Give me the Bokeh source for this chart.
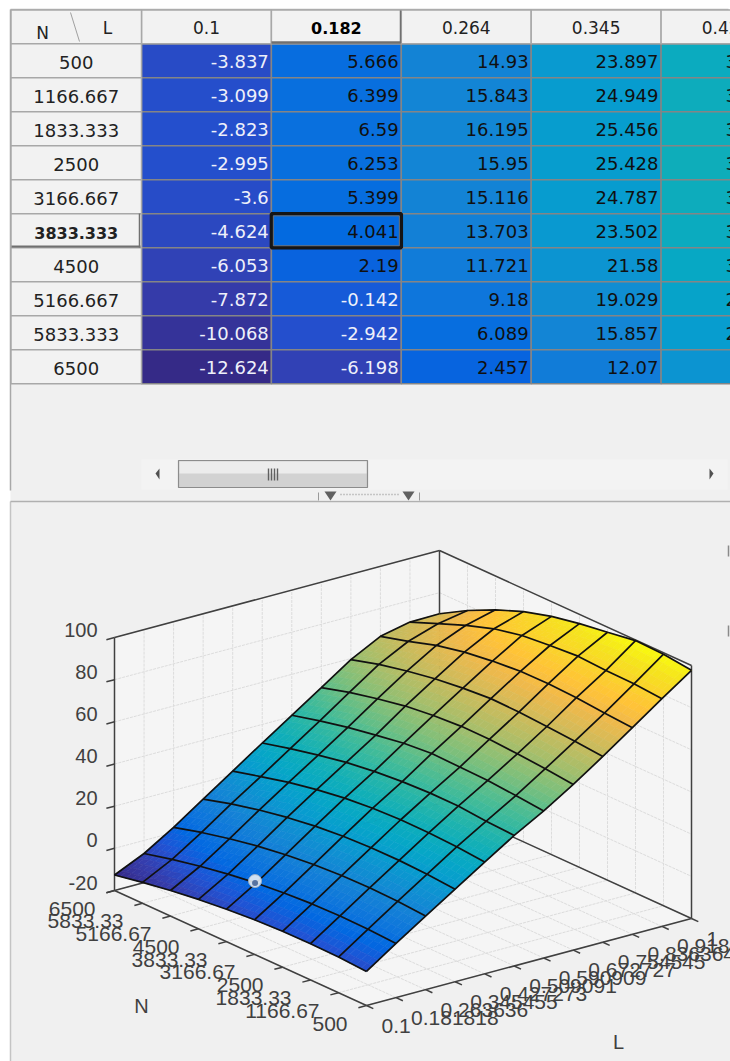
from bokeh.plotting import figure
from bokeh.models import Range1d, ColumnDataSource
from bokeh.core.properties import value
from bokeh.embed import file_html
from bokeh.resources import INLINE

# ---- data ----
N_VALUES = [500, 1166.667, 1833.333, 2500, 3166.667, 3833.333, 4500, 5166.667, 5833.333, 6500]
L_VALUES = [0.1, 0.181818, 0.263636, 0.345455, 0.427273, 0.509091, 0.590909, 0.672727, 0.754545, 0.836364, 0.918182, 1]
N_ROW_LABELS = ["500", "1166.667", "1833.333", "2500", "3166.667", "3833.333", "4500", "5166.667", "5833.333", "6500"]
L_COL_LABELS = ["0.1", "0.182", "0.264", "0.345", "0.427"]
N_TICK_LABELS = ["500", "1166.67", "1833.33", "2500", "3166.67", "3833.33", "4500", "5166.67", "5833.33", "6500"]
L_TICK_LABELS = ["0.1", "0.181818", "0.263636", "0.345455", "0.427273", "0.509091", "0.590909",
                 "0.672727", "0.754545", "0.836364", "0.918182", "1"]
Z_TICKS = [-20, 0, 20, 40, 60, 80, 100]

Z = [
    [-3.837, 5.666, 14.93, 23.897, 33.021, 41.9, 49.8, 58.6, 68.1, 78.0, 88.0, 97.7],
    [-3.099, 6.399, 15.843, 24.949, 34.214, 42.6, 51.0, 60.0, 69.3, 78.9, 89.0, 99.3],
    [-2.823, 6.59, 16.195, 25.456, 34.806, 43.7, 52.1, 61.0, 70.2, 80.1, 89.3, 99.7],
    [-2.995, 6.253, 15.95, 25.428, 34.913, 43.8, 52.4, 61.8, 71.0, 80.7, 90.0, 97.6],
    [-3.6, 5.399, 15.116, 24.787, 34.318, 43.2, 52.8, 61.9, 71.3, 80.5, 89.0, 95.6],
    [-4.624, 4.041, 13.703, 23.502, 33.042, 42.0, 51.6, 61.0, 70.2, 79.3, 87.7, 93.0],
    [-6.053, 2.19, 11.721, 21.58, 31.027, 40.2, 49.4, 59.4, 68.6, 77.5, 84.8, 89.2],
    [-7.872, -0.142, 9.18, 19.029, 28.412, 37.6, 47.0, 56.8, 66.2, 74.6, 80.4, 84.0],
    [-10.068, -2.942, 6.089, 15.857, 25.103, 34.6, 44.0, 53.8, 63.3, 70.5, 75.1, 77.6],
    [-12.624, -6.198, 2.457, 12.07, 21.63, 31.2, 40.6, 50.0, 59.5, 66.8, 69.8, 70.0],
]
SELECTED_ROW, SELECTED_COL = 5, 1

# ---- palette ----
PARULA = [(53, 42, 135), (53, 61, 173), (32, 83, 212), (2, 104, 225), (13, 117, 220), (20, 129, 214),
          (16, 142, 210), (7, 156, 207), (6, 167, 198), (15, 174, 185), (37, 181, 169), (66, 187, 152),
          (101, 190, 134), (135, 191, 119), (165, 190, 107), (192, 188, 96), (217, 186, 86),
          (241, 185, 74), (255, 195, 55), (250, 211, 42), (245, 228, 29), (249, 251, 14)]
ZMIN, ZMAX = -12.624, 99.7


def color(z):
    t = max(0.0, min(1.0, (z - ZMIN) / (ZMAX - ZMIN))) * (len(PARULA) - 1)
    i = min(int(t), len(PARULA) - 2)
    f = t - i
    c = [round(PARULA[i][k] + (PARULA[i + 1][k] - PARULA[i][k]) * f) for k in range(3)]
    return "#%02x%02x%02x" % tuple(c)


# ---- page ----
FONT = value("DejaVu Sans")
ARIAL = value("Liberation Sans")
p = figure(width=730, height=1061, x_range=Range1d(0, 730), y_range=Range1d(1061, 0),
           toolbar_location=None, output_backend="svg", min_border=0)
p.axis.visible = False
p.grid.visible = False
p.outline_line_color = None
p.background_fill_color = "white"
p.border_fill_color = "white"

# table scale: column index / row index -> page
COLW, ROWH, X0, Y0 = 129.9, 34.0, 141.0, 43.3
p.extra_x_ranges["tx"] = Range1d((0 - X0) / COLW, (730 - X0) / COLW)
p.extra_y_ranges["ty"] = Range1d((1061 - Y0) / ROWH, (0 - Y0) / ROWH)
T = dict(x_range_name="tx", y_range_name="ty")


def block(x0, x1, y0, y1, fill, line=None, lw=1):
    p.quad(left=x0, right=x1, top=y0, bottom=y1, fill_color=fill,
           line_color=line, line_width=lw)


def seg(x0, y0, x1, y1, col, lw=1, dash="solid"):
    p.line([x0, x1], [y0, y1], line_color=col, line_width=lw, line_dash=dash)


BG = "#f0f0f0"
block(10, 730, 9, 1061, BG)
seg(10, 9, 10, 490, "#a8a8a8", 1.5)
seg(10, 501, 10, 1061, "#c4c4c4", 1.5)
seg(10, 9, 728, 9, "#b8b8b8", 1.5)
seg(728, 545, 728, 556, "#8a8a8a", 1.5)
seg(728, 625, 728, 636, "#8a8a8a", 1.5)

# table cells
n_cols = len(L_COL_LABELS)
cx, cy, cf, ct, ctc = [], [], [], [], []
for r in range(len(N_VALUES)):
    for c in range(n_cols):
        v = Z[r][c]
        cx.append(c + 0.5)
        cy.append(r + 0.5)
        cf.append(color(v))
        ct.append(f"{v:.3f}".rstrip("0").rstrip("."))
        ctc.append("#eef0fa" if v < 0 else "#101010")
p.rect(x="x", y="y", width=1, height=1, fill_color="f", line_color="#858585", line_width=1.5,
       source=ColumnDataSource(dict(x=cx, y=cy, f=cf)), **T)
vis = [k for k in range(len(ct)) if not (cx[k] > 4 and len(ct[k]) < 6)]
p.text(x=[cx[k] + 0.5 - 0.02 for k in vis], y=[cy[k] + 0.03 for k in vis], text=[ct[k] for k in vis],
       text_color=[ctc[k] for k in vis], text_font=FONT,
       text_font_size="18px", text_align="right", text_baseline="middle", **T)

# headers
HDR_TOP = (9.5 - Y0) / ROWH
p.quad(left=list(range(n_cols)), right=[i + 1 for i in range(n_cols)], top=[HDR_TOP] * n_cols,
       bottom=[0] * n_cols, fill_color="#f2f2f2", line_color="#a8a8a8", line_width=1.5, **T)
RH_L, RH_R = (10.5 - X0) / COLW, 0
p.quad(left=[RH_L] * 11, right=[RH_R] * 11, top=[HDR_TOP] + list(range(10)),
       bottom=list(range(11)), fill_color="#f2f2f2", line_color="#a8a8a8", line_width=1.5, **T)
p.text(x=[i + 0.5 for i in range(n_cols)], y=[HDR_TOP / 2 + 0.03] * n_cols, text=L_COL_LABELS,
       text_color=["#222222", "black", "#222222", "#222222", "#222222"],
       text_font=FONT, text_font_size=["17px", "16px", "17px", "17px", "17px"], text_align="center",
       text_baseline="middle",
       text_font_style=["normal", "bold", "normal", "normal", "normal"], **T)
p.text(x=[RH_L / 2] * 10, y=[r + 0.55 for r in range(10)], text=N_ROW_LABELS, text_color="#222222",
       text_font=FONT, text_font_size=["16px" if r == SELECTED_ROW else "18px" for r in range(10)],
       text_align="center", text_baseline="middle",
       text_font_style=["bold" if r == SELECTED_ROW else "normal" for r in range(10)], **T)
p.text(x=[42, 107], y=[32, 27], text=["N", "L"], text_color="#222222", text_font=FONT,
       text_font_size="17px", text_align="center", text_baseline="middle")
seg(70, 12, 79, 41, "#a0a0a0", 1)

# selection
p.rect(x=[SELECTED_COL + 0.5], y=[SELECTED_ROW + 0.5], width=1, height=1, fill_alpha=0,
       line_color="#151515", line_width=3.5, **T)
p.rect(x=[SELECTED_COL + 0.5], y=[SELECTED_ROW + 0.5], width=0.97, height=0.88, fill_alpha=0,
       line_color="#707070", line_width=1, **T)
seg(271, 42, 400, 42, "#707070", 2.5)
seg(400, 10, 400, 43, "#707070", 1.5)
seg(139, 213, 139, 247, "#707070", 1.5)
seg(11, 246, 140, 246, "#707070", 2)

# scrollbar
block(141, 727, 459, 489, "#f3f3f3")
block(178, 367, 460, 487, "#d2d2d2", "#8c8c8c", 1.2)
block(179, 366, 461, 473, "#ececec")
for gx in (268, 271, 274, 277):
    seg(gx, 468, gx, 480, "#606060", 1.4)
p.patch([159, 155, 159], [468, 473, 479], fill_color="#505050", line_color=None)
p.patch([709, 713, 709], [468, 473, 479], fill_color="#505050", line_color=None)

# splitter
seg(10, 501, 730, 501, "#b0b0b0", 1.5)
block(318, 419, 491, 500, "#f0f0f0")
seg(318, 492, 318, 500, "#9a9a9a", 1)
seg(419, 492, 419, 500, "#9a9a9a", 1)
p.patch([324, 336, 330], [491, 491, 500], fill_color="#606060", line_color=None)
p.patch([402, 414, 408], [491, 491, 500], fill_color="#606060", line_color=None)
seg(340, 494, 398, 494, "#9a9a9a", 1.5, "1 2")

# ---- 3-D scene ----
LEFT = (114.0, 890.0)    # N=6500, L=0.1, z=-20
FRONT = (366.0, 1005.0)  # N=500,  L=0.1, z=-20
RIGHT = (691.0, 918.0)   # N=500,  L=1,   z=-20
PX_PER_Z = 253.0 / 120.0
LMIN, LMAX, NMIN, NMAX = L_VALUES[0], L_VALUES[-1], N_VALUES[0], N_VALUES[-1]


def project(n, l, z):
    a = (l - LMIN) / (LMAX - LMIN)
    b = (n - NMIN) / (NMAX - NMIN)
    x = FRONT[0] + a * (RIGHT[0] - FRONT[0]) + b * (LEFT[0] - FRONT[0])
    y = FRONT[1] + a * (RIGHT[1] - FRONT[1]) + b * (LEFT[1] - FRONT[1])
    return x, y - (z + 20) * PX_PER_Z


# panes
PANE = "#f5f5f5"
GRID = "#dcdcdc"
walls = [[(NMAX, LMIN, -20), (NMIN, LMIN, -20), (NMIN, LMAX, -20), (NMAX, LMAX, -20)],
         [(NMAX, LMIN, -20), (NMAX, LMAX, -20), (NMAX, LMAX, 100), (NMAX, LMIN, 100)],
         [(NMAX, LMAX, -20), (NMIN, LMAX, -20), (NMIN, LMAX, 100), (NMAX, LMAX, 100)]]
for w in walls:
    pts = [project(*q) for q in w]
    p.patch([q[0] for q in pts], [q[1] for q in pts], fill_color=PANE, line_color=None)


def line3(a, b, col, lw=1, dash="solid"):
    x0, y0 = project(*a)
    x1, y1 = project(*b)
    seg(x0, y0, x1, y1, col, lw, dash)


GD = "3 1"
for n in N_VALUES:
    line3((n, LMIN, -20), (n, LMAX, -20), GRID, 1, GD)
    line3((n, LMAX, -20), (n, LMAX, 100), GRID, 1, GD)
for l in L_VALUES:
    line3((NMIN, l, -20), (NMAX, l, -20), GRID, 1, GD)
    line3((NMAX, l, -20), (NMAX, l, 100), GRID, 1, GD)
for z in Z_TICKS:
    line3((NMAX, LMIN, z), (NMAX, LMAX, z), GRID, 1, GD)
    line3((NMAX, LMAX, z), (NMIN, LMAX, z), GRID, 1, GD)

# box lines
AX = "#404040"
for a, b in [((NMAX, LMIN, -20), (NMAX, LMIN, 100)), ((NMAX, LMIN, 100), (NMAX, LMAX, 100)),
             ((NMAX, LMAX, -20), (NMAX, LMAX, 100)), ((NMAX, LMAX, 100), (NMIN, LMAX, 100)),
             ((NMIN, LMAX, -20), (NMIN, LMAX, 100)), ((NMAX, LMIN, -20), (NMIN, LMIN, -20)),
             ((NMIN, LMIN, -20), (NMIN, LMAX, -20)), ((NMAX, LMIN, -20), (NMAX, LMAX, -20)),
             ((NMAX, LMAX, -20), (NMIN, LMAX, -20))]:
    line3(a, b, AX, 1.5)

# ticks
TICK = AX
LSPAN = (LMAX - LMIN) * 0.025
NSPAN = (NMAX - NMIN) * 0.027
for z in Z_TICKS:
    line3((NMAX, LMIN, z), (NMAX, LMIN - LSPAN, z), TICK, 1.5)
for n in N_VALUES:
    line3((n, LMIN, -20), (n, LMIN - LSPAN, -20), TICK, 1.5)
for l in L_VALUES:
    line3((NMIN, l, -20), (NMIN - NSPAN, l, -20), TICK, 1.5)

# tick labels
LBL = "#404040"
zp = [project(NMAX, LMIN, z) for z in Z_TICKS]
p.text(x=[q[0] - 17 for q in zp], y=[q[1] - 8 for q in zp], text=[str(z) for z in Z_TICKS],
       text_color=LBL, text_font=ARIAL, text_font_size="20px", text_align="right",
       text_baseline="middle")
np_ = [project(n, LMIN, -20) for n in N_VALUES]
p.text(x=[q[0] - 19 for q in np_], y=[q[1] + 18 for q in np_], text=N_TICK_LABELS,
       text_color=LBL, text_font=ARIAL, text_font_size="21px", text_align="right",
       text_baseline="middle")
lp = [project(NMIN, l, -20) for l in L_VALUES]
p.text(x=[q[0] + 15 for q in lp], y=[q[1] + 20 for q in lp], text=L_TICK_LABELS,
       text_color=LBL, text_font=ARIAL, text_font_size="21px", text_align="left",
       text_baseline="middle")
p.text(x=[141, 618], y=[1005, 1041], text=["N", "L"], text_color=LBL, text_font=ARIAL,
       text_font_size="20px", text_align="center", text_baseline="middle")

# surface, back to front, each facet shaded from its corner values
SUB = 5
xs, ys, fills = [], [], []
for r in range(len(N_VALUES) - 2, -1, -1):
    for c in range(len(L_VALUES) - 2, -1, -1):
        n0, n1 = N_VALUES[r], N_VALUES[r + 1]
        l0, l1 = L_VALUES[c], L_VALUES[c + 1]
        z00, z01, z10, z11 = Z[r][c], Z[r][c + 1], Z[r + 1][c], Z[r + 1][c + 1]

        def at(u, v):
            zz = (z00 * (1 - v) + z01 * v) * (1 - u) + (z10 * (1 - v) + z11 * v) * u
            return n0 + (n1 - n0) * u, l0 + (l1 - l0) * v, zz

        for a in range(SUB - 1, -1, -1):
            for b in range(SUB - 1, -1, -1):
                q = [at(a / SUB, b / SUB), at(a / SUB, (b + 1) / SUB),
                     at((a + 1) / SUB, (b + 1) / SUB), at((a + 1) / SUB, b / SUB)]
                pts = [project(*t) for t in q]
                xs.append([t[0] for t in pts])
                ys.append([t[1] for t in pts])
                fills.append(color(sum(t[2] for t in q) / 4))
p.patches(xs, ys, fill_color=fills, line_color=fills, line_width=0.6)

# mesh
MESH = "#111111"
for r, n in enumerate(N_VALUES):
    pts = [project(n, l, Z[r][c]) for c, l in enumerate(L_VALUES)]
    p.line([t[0] for t in pts], [t[1] for t in pts], line_color=MESH, line_width=1.7)
for c, l in enumerate(L_VALUES):
    pts = [project(n, l, Z[r][c]) for r, n in enumerate(N_VALUES)]
    p.line([t[0] for t in pts], [t[1] for t in pts], line_color=MESH, line_width=1.7)

# data cursor on the selected cell
sx, sy = project(N_VALUES[SELECTED_ROW], L_VALUES[SELECTED_COL], Z[SELECTED_ROW][SELECTED_COL])
p.scatter([sx - 1], [sy - 2], size=13, fill_color="#e8eef4", fill_alpha=0.9, line_color="#9ab0c8", line_width=1)
p.scatter([sx - 1], [sy], size=6, fill_color="#3a5a90", fill_alpha=0.8, line_color=None)

open("out.html", "w").write(file_html(p, INLINE))
